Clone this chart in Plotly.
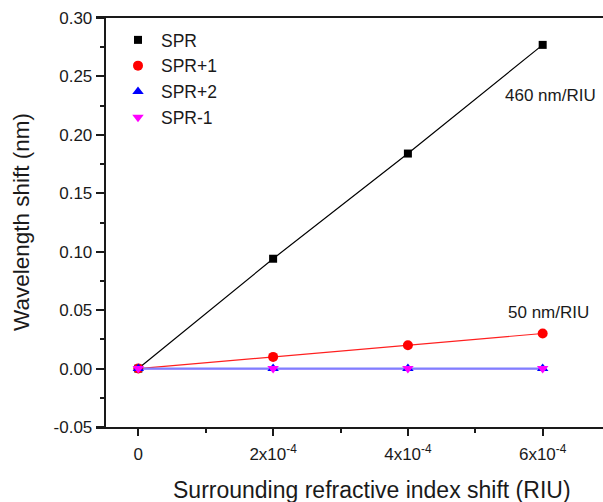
import plotly.graph_objects as go

# Refractive index shift (RIU) and wavelength shift (nm) for each resonance
ri_shift = [0.0, 2e-4, 4e-4, 6e-4]
spr = [0.0, 0.094, 0.184, 0.277]
spr_p1 = [0.0, 0.010, 0.020, 0.030]
spr_p2 = [0.0, 0.0, 0.0, 0.0]
spr_m1 = [0.0, 0.0, 0.0, 0.0]

x_tick_vals = [0.0, 2e-4, 4e-4, 6e-4]
x_tick_text = ["0", "2x10<sup>-4</sup>", "4x10<sup>-4</sup>", "6x10<sup>-4</sup>"]
y_tick_vals = [-0.05, 0.0, 0.05, 0.10, 0.15, 0.20, 0.25, 0.30]
y_tick_text = ["-0.05", "0.00", "0.05", "0.10", "0.15", "0.20", "0.25", "0.30"]

FONT = "Liberation Sans, Arial, sans-serif"
INK = "#1a1a1a"

fig = go.Figure()

# connecting lines (kept out of the legend)
line_specs = [
    (spr, "#000000", 1.2),
    (spr_p1, "#ff2020", 1.2),
    (spr_m1, "#ff00ff", 1.2),
    (spr_p2, "#7f7fff", 2.2),
]
for ys, col, w in line_specs:
    fig.add_trace(go.Scatter(x=ri_shift, y=ys, mode="lines",
                             line=dict(color=col, width=w),
                             showlegend=False, hoverinfo="skip"))

# marker series
marker_specs = [
    ("SPR", spr, "#000000", "square", 8),
    ("SPR+1", spr_p1, "#ff0000", "circle", 10),
    ("SPR+2", spr_p2, "#0000ff", "triangle-up", 10),
    ("SPR-1", spr_m1, "#ff00ff", "triangle-down", 10),
]
for name, ys, col, sym, sz in marker_specs:
    fig.add_trace(go.Scatter(x=ri_shift, y=ys, mode="markers", name=name,
                             marker=dict(color=col, symbol=sym, size=sz,
                                         line=dict(width=0))))

fig.add_annotation(x=6.11e-4, y=0.2334, xref="x", yref="y", text="460 nm/RIU",
                   showarrow=False, font=dict(family=FONT, size=17, color=INK))
fig.add_annotation(x=6.09e-4, y=0.0476, xref="x", yref="y", text="50 nm/RIU",
                   showarrow=False, font=dict(family=FONT, size=17, color=INK))

L, R, T, B = 96, 0, 18, 75
W, H = 603, 502
plot_w = W - L - R
plot_h = H - T - B
y_axis_px = 104.7
x_left = -0.628e-4
x_right = 6.895e-4

# axis titles
fig.add_annotation(x=(372 - L) / plot_w, y=(427 - 490) / plot_h,
                   xref="paper", yref="paper", xanchor="center", yanchor="middle",
                   text="Surrounding refractive index shift (RIU)", showarrow=False,
                   font=dict(family=FONT, size=23, color=INK))
fig.add_annotation(x=(21 - L) / plot_w, y=(427 - 222) / plot_h,
                   xref="paper", yref="paper", xanchor="center", yanchor="middle",
                   text="Wavelength shift (nm)", textangle=-90, showarrow=False,
                   font=dict(family=FONT, size=22.5, color=INK))

fig.update_layout(
    width=W, height=H,
    margin=dict(l=L, r=R, t=T, b=B, pad=0),
    paper_bgcolor="white", plot_bgcolor="white",
    font=dict(family=FONT, size=17, color=INK),
    showlegend=True,
    legend=dict(x=(115 - L) / plot_w, y=1 - (22 - T) / plot_h,
                xanchor="left", yanchor="top",
                bgcolor="rgba(0,0,0,0)", borderwidth=0,
                font=dict(family=FONT, size=17.5, color=INK),
                itemwidth=36, tracegroupgap=0),
    xaxis=dict(
        range=[x_left, x_right], domain=[0, 1],
        showgrid=False, zeroline=False,
        showline=True, linecolor=INK, linewidth=2, mirror=True,
        ticks="outside", ticklen=7, tickwidth=1.5, tickcolor=INK,
        tickmode="array", tickvals=x_tick_vals, ticktext=x_tick_text,
        ticklabelstandoff=4,
        minor=dict(tickmode="linear", tick0=0, dtick=1e-4, ticks="outside",
                   ticklen=4, tickwidth=1.5, tickcolor=INK, showgrid=False),
        tickfont=dict(family=FONT, size=17, color=INK),
    ),
    yaxis=dict(
        range=[-0.05, 0.30], domain=[0, 1],
        anchor="free", position=(y_axis_px - L) / plot_w,
        showgrid=False, zeroline=False,
        showline=True, linecolor=INK, linewidth=2,
        ticks="outside", ticklen=8, tickwidth=1.5, tickcolor=INK,
        tickmode="array", tickvals=y_tick_vals, ticktext=y_tick_text,
        ticklabelstandoff=0,
        minor=dict(tickmode="linear", tick0=0, dtick=0.025, ticks="outside",
                   ticklen=4, tickwidth=1.5, tickcolor=INK, showgrid=False),
        tickfont=dict(family=FONT, size=17, color=INK),
    ),
)

fig.write_html("out.html")
